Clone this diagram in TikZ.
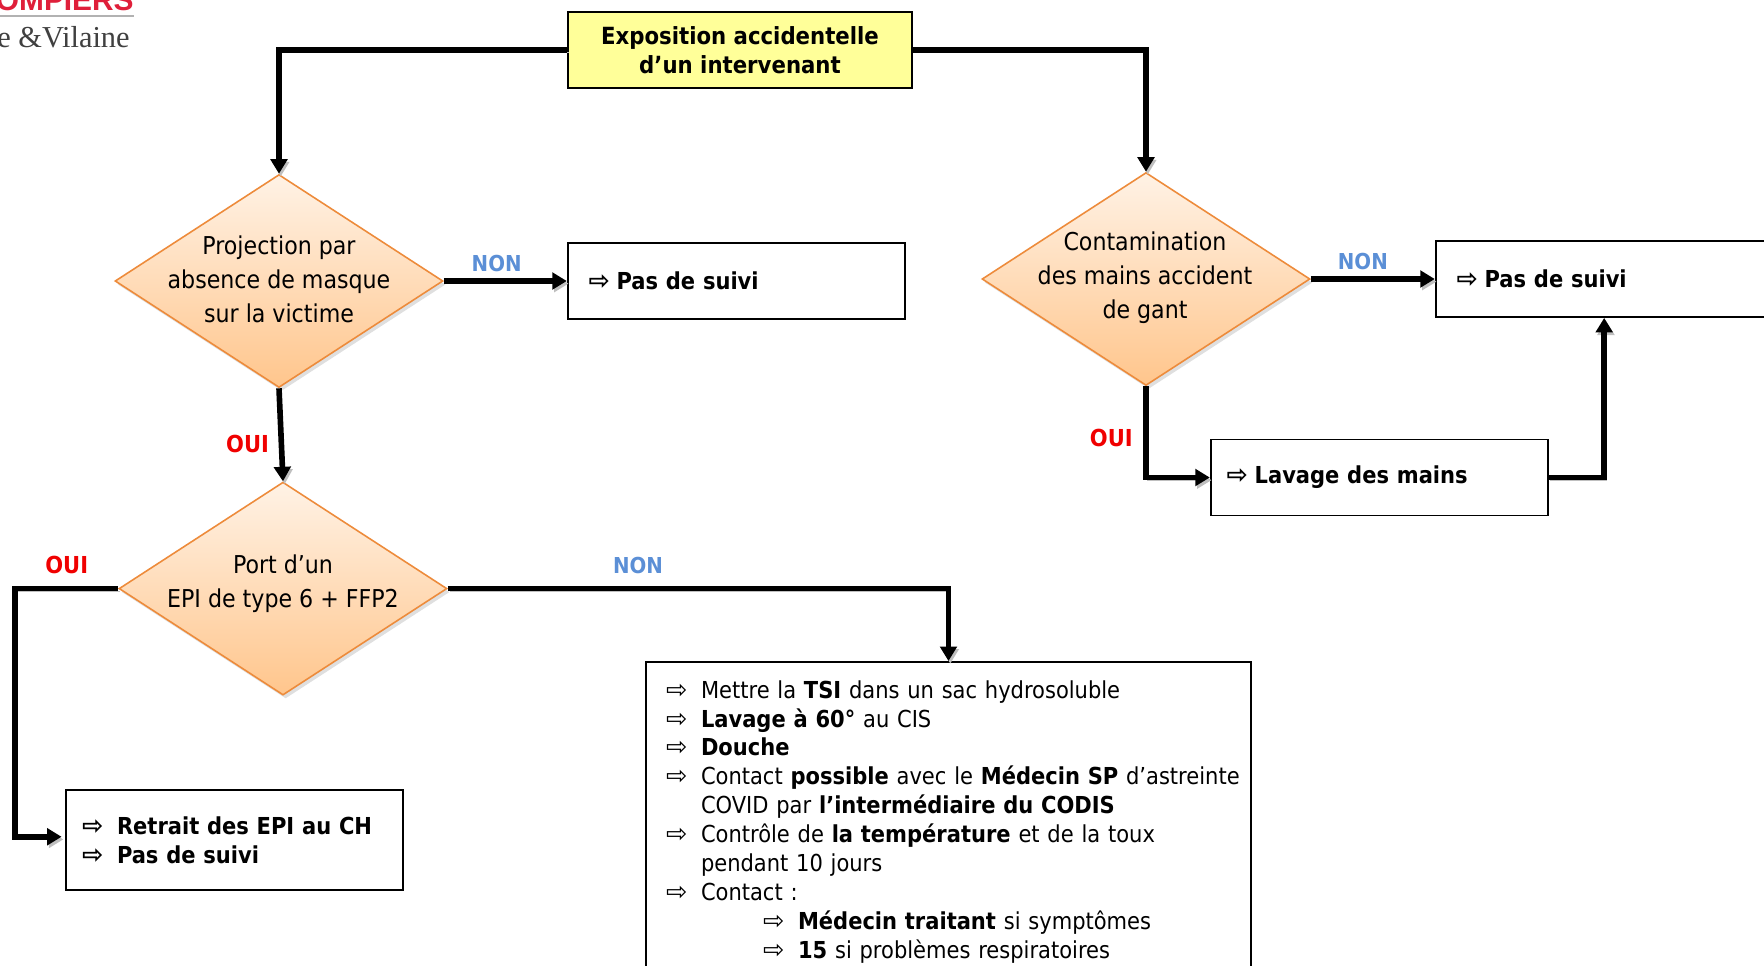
\documentclass[tikz,border=0pt]{standalone}
\usepackage{fontspec}
\setmainfont{DejaVu Sans Condensed}
\newfontfamily\flechefont{DejaVu Sans}
\newfontfamily\logofont{Liberation Serif}
\newfontfamily\logosans{Liberation Sans}
\usepackage{xcolor}
\usepackage{tikz}
\usetikzlibrary{shapes,arrows.meta,positioning,calc,shadows}

\definecolor{bleunon}{HTML}{5B8FD6}
\definecolor{rougeoui}{HTML}{F00000}
\definecolor{rougelogo}{HTML}{DF1F3A}
\definecolor{orangebord}{HTML}{ED8B3B}
\definecolor{jaunebox}{HTML}{FFFF99}
\newcommand{\fl}[1][0.56cm]{\makebox[#1][l]{\fontsize{14.5}{14}\flechefont ⇨}}

\begin{document}
\begin{tikzpicture}[
    losange/.style={diamond, draw=orangebord, line width=0.9pt, top color=orange!10!white, bottom color=orange!45!white, minimum width=6.56cm, minimum height=4.26cm, inner sep=0pt, drop shadow={opacity=0.25, shadow xshift=1.5pt, shadow yshift=-2pt}},
    losangetxt/.style={align=center, font=\fontsize{14}{19.3}\selectfont},
    titre/.style={rectangle, draw, line width=1pt, fill=jaunebox, minimum width=6.88cm, minimum height=1.52cm, align=center, font=\fontsize{13.45}{16.44}\selectfont\bfseries},
    boite/.style={rectangle, draw, line width=1pt, fill=white, text width=5.9cm, inner xsep=0.42cm, minimum height=1.52cm, align=left, font=\fontsize{13.3}{16.44}\selectfont\bfseries},
    arrow/.style={->, >={Triangle[length=2.9mm,width=3.3mm]}, line width=3.2pt, preaction={draw=black!25, transform canvas={xshift=1pt,yshift=-1.5pt}}},
    non/.style={text=bleunon, font=\fontsize{12.5}{14}\selectfont\bfseries, inner sep=3.5pt},
    oui/.style={text=rougeoui, font=\fontsize{13.3}{14}\selectfont\bfseries, inner sep=2.5pt}
]
\useasboundingbox (0,0) rectangle (35.28,-19.3);

\node[titre] (expo) at (14.8,-1.0) {Exposition accidentelle\\d’un intervenant};

\node[losange] (d1) at (5.58,-5.62) {};
\node[losangetxt] (d1txt) at (5.58,-5.58) {Projection par\\absence de masque\\sur la victime};
\node[boite, right=2.46cm of d1] (pas1) {\fl Pas de suivi};

\node[losange] (d2) at (22.92,-5.58) {};
\node[losangetxt] (d2txt) at (22.9,-5.56) {Contamination\\des mains accident\\de gant};
\node[boite, right=2.48cm of d2] (pas2) {\fl Pas de suivi};
\node[boite, below=2.415cm of pas2, xshift=-4.5cm, inner xsep=0.32cm, text width=6.1cm] (lavage) {\fl Lavage des mains};

\node[losange, below=1.86cm of d1, xshift=0.08cm] (d3) {};
\node[losangetxt] (d3txt) at ($(d3)+(0,0.09)$) {Port d’un\\EPI de type 6 + FFP2};
\node[boite, below=1.87cm of d3, xshift=-0.97cm, inner xsep=0.32cm, text width=6.1cm, minimum height=2cm] (retrait) {\fl[0.7cm]Retrait des EPI au CH\\\fl[0.7cm]Pas de suivi};

\node[boite, anchor=north, inner xsep=0.4cm, text width=11.3cm, inner ysep=0.37cm, font=\fontsize{13.3}{16.44}\selectfont] (soins) at (18.97,-13.22) {%
\fl[0.7cm]Mettre la \textbf{TSI} dans un sac hydrosoluble\\
\fl[0.7cm]\textbf{Lavage à 60°} au CIS\\
\fl[0.7cm]\textbf{Douche}\\
\mbox{\fl[0.7cm]Contact \textbf{possible} avec le \textbf{Médecin SP} d’astreinte}\\
\hspace*{0.7cm}COVID par \textbf{l’intermédiaire du CODIS}\\
\fl[0.7cm]Contrôle de \textbf{la température} et de la toux\\
\hspace*{0.7cm}pendant 10 jours\\
\fl[0.7cm]Contact :\\
\hspace*{1.94cm}\fl[0.7cm]\textbf{Médecin traitant} si symptômes\\
\hspace*{1.94cm}\fl[0.7cm]\textbf{15} si problèmes respiratoires};

% logo coupe par le bord
\node[anchor=base east, inner sep=0pt, text=rougelogo, font=\fontsize{17}{17}\logosans\bfseries] (logohaut) at (2.68,-0.2) {OMPIERS};
\node[anchor=base east, inner sep=0pt, text=black!75, font=\fontsize{17.3}{17}\logofont] (logobas) at (2.6,-0.94) {e \&Vilaine};
\draw[black!30, line width=0.6pt] (logohaut.south west |- 0,-0.32) coordinate (logog) -- (logog -| logohaut.east);

\draw[arrow] (expo.west) -| (d1.north);
\draw[arrow] (expo.east) -| (d2.north);
\draw[arrow] (d1.east) -- (pas1.west) node[pos=.43, above, non] {NON};
\draw[arrow] (d1.south) -- (d3.north) node[pos=.6, left=3pt, oui] {OUI};
\draw[arrow] (d2.east) -- (pas2.west) node[pos=.42, above, non] {NON};
\draw[arrow] (d2.south) |- (lavage.west) node[pos=.285, left=3.5pt, oui] {OUI};
\draw[arrow] (lavage.east) -| (pas2.south);
\draw[arrow] (d3.east) -| (soins.north) node[pos=.19, above, non, yshift=3.5pt] {NON};
\draw[arrow, shorten >=2pt] (d3.west) -- ++(-2.06,0) node[midway, above, oui, yshift=4.5pt] {OUI} |- ($(retrait.west)+(0,0.07)$);

\end{tikzpicture}
\end{document}
